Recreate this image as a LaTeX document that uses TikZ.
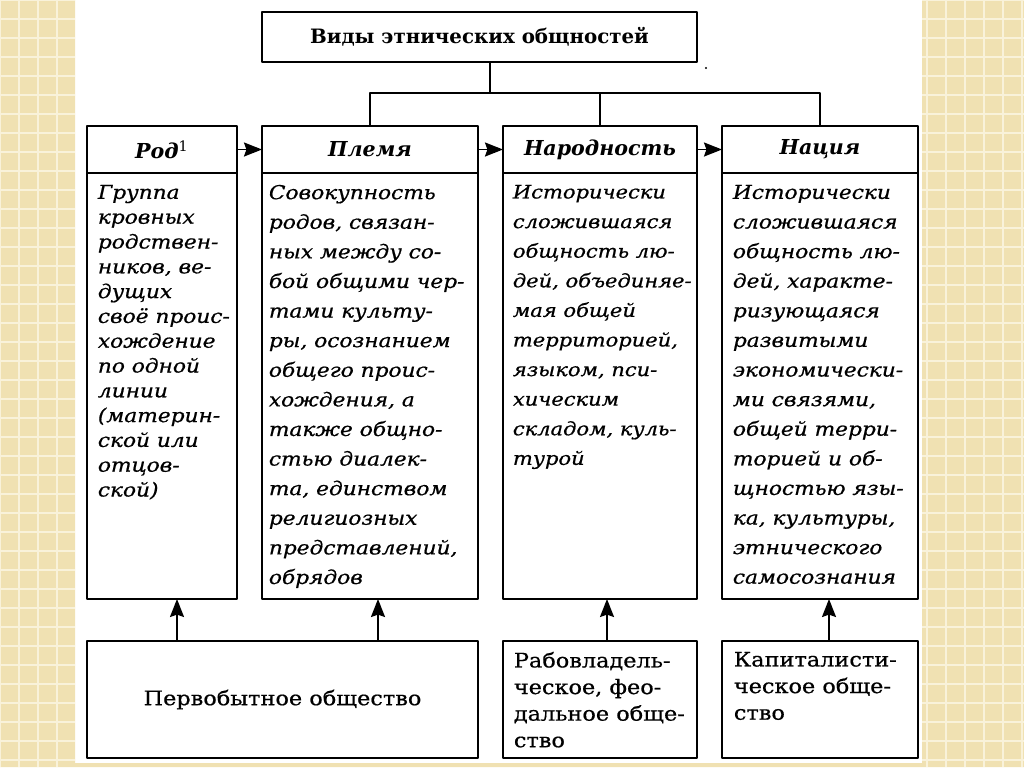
\documentclass[tikz,border=0pt]{standalone}
\usepackage{fontspec}
\setmainfont{DejaVu Serif}
\newfontfamily\bodyfont{DejaVu Serif}[FakeStretch=1.13, FakeBold=0.7]
\newfontfamily\lowerfont{DejaVu Serif}[FakeStretch=1.12, FakeBold=0.6]
\usetikzlibrary{arrows.meta,positioning,calc}

\definecolor{paper}{RGB}{240,225,178}
\definecolor{paperline}{RGB}{249,242,218}

\begin{document}
\begin{tikzpicture}[x=0.5pt, y=-0.5pt, line join=round, line width=0.9pt,
  frame/.style={draw, rectangle, inner sep=0pt, outer sep=0pt},
  hdr/.style={frame, minimum height=23.5pt, font=\bfseries\itshape\fontsize{10.3}{12}\selectfont},
  cell/.style={frame, minimum height=213pt},
  bodytext/.style={anchor=north west, inner sep=0pt, align=left, font=\bodyfont\itshape\fontsize{9.6}{14.8}\selectfont},
  lower/.style={frame, minimum height=58.5pt, anchor=north west},
  lowertext/.style={anchor=north west, inner sep=0pt, align=left, font=\lowerfont\fontsize{10}{13.3}\selectfont},
  right/.style={-{Stealth[length=9pt,width=7pt,inset=1.2pt]}},
  up/.style={-{Stealth[length=9pt,width=7pt,inset=1.2pt]}}]
\useasboundingbox (0,0) rectangle (1024,767);
% paper edges
\fill[paper] (0,0) rectangle (75,767) (922,0) rectangle (1024,767) (0,763) rectangle (1024,767);
\foreach \k in {0,19,...,760} {
  \draw[paperline, line width=0.8pt] (0,\k) -- (75,\k) (922,\k) -- (1024,\k);
}
\foreach \k in {0,19,...,75} \draw[paperline, line width=0.8pt] (\k,0) -- (\k,767);
\foreach \k in {927,946,...,1024} \draw[paperline, line width=0.8pt] (\k,0) -- (\k,767);

% title
\node[frame, minimum width=217.5pt, minimum height=25pt, anchor=north west,
  font=\bfseries\fontsize{9.9}{11}\selectfont] (title) at (262,12) {Виды этнических общностей};
\fill (706,68) circle (0.6pt);

% headers
\node[hdr, minimum width=75pt, anchor=north west] (rod) at (87,126) {Род\textsuperscript{\normalfont 1}};
\node[hdr, minimum width=108pt, anchor=north west] (plemya) at (262,126) {Племя};
\node[hdr, minimum width=97pt, anchor=north west] (narod) at (503,126) {Народность};
\node[hdr, minimum width=98pt, anchor=north west] (natsiya) at (722,126) {Нация};

\node[cell, minimum width=75pt, anchor=north] (rodbox) at (rod.south) {};
\node[cell, minimum width=108pt, anchor=north] (plemyabox) at (plemya.south) {};
\node[cell, minimum width=97pt, anchor=north] (narodbox) at (narod.south) {};
\node[cell, minimum width=98pt, anchor=north] (natsiyabox) at (natsiya.south) {};

\node[bodytext, font=\bodyfont\itshape\fontsize{9.6}{12.4}\selectfont] (rodtxt) at (97,184) {Группа\\кровных\\родствен-\\ников, ве-\\дущих\\своё проис-\\хождение\\по одной\\линии\\(материн-\\ской или\\отцов-\\ской)};
\node[bodytext] (plemyatxt) at (268,184) {Совокупность\\родов, связан-\\ных между со-\\бой общими чер-\\тами культу-\\ры, осознанием\\общего проис-\\хождения, а\\также общно-\\стью диалек-\\та, единством\\религиозных\\представлений,\\обрядов};
\node[bodytext, font=\bodyfont\itshape\fontsize{9.3}{14.8}\selectfont] (narodtxt) at (512,184) {Исторически\\сложившаяся\\общность лю-\\дей, объединяе-\\мая общей\\территорией,\\языком, пси-\\хическим\\складом, куль-\\турой};
\node[bodytext] (natsiyatxt) at (732,184) {Исторически\\сложившаяся\\общность лю-\\дей, характе-\\ризующаяся\\развитыми\\экономически-\\ми связями,\\общей терри-\\торией и об-\\щностью язы-\\ка, культуры,\\этнического\\самосознания};

% societies
\node[lower, minimum width=195.5pt, font=\lowerfont\fontsize{10}{13.3}\selectfont] (prim) at (87,641) {Первобытное общество};
\node[lower, minimum width=97pt] (slave) at (503,641) {};
\node[lower, minimum width=98pt] (capital) at (722,641) {};
\node[lowertext] (slavetxt) at (513,651) {Рабовладель-\\ческое, фео-\\дальное обще-\\ство};
\node[lowertext] (capitaltxt) at (733,651) {Капиталисти-\\ческое обще-\\ство};

% tree from the title
\coordinate (bus) at (490,93);
\draw (title.south -| bus) -- (bus);
\draw (plemya.north) |- (bus) -| (natsiya.north);
\draw (narod.north) -- (narod.north |- bus);

% sequence
\draw[right] (rod.east) -- (plemya.west);
\draw[right] (plemya.east) -- (narod.west);
\draw[right] (narod.east) -- (natsiya.west);

% origins
\draw[up] (prim.north -| 177,0) -- (rodbox.south -| 177,0);
\draw[up] (prim.north -| 378,0) -- (plemyabox.south -| 378,0);
\draw[up] (slave.north -| 607,0) -- (narodbox.south -| 607,0);
\draw[up] (capital.north -| 829,0) -- (natsiyabox.south -| 829,0);
\end{tikzpicture}
\end{document}
